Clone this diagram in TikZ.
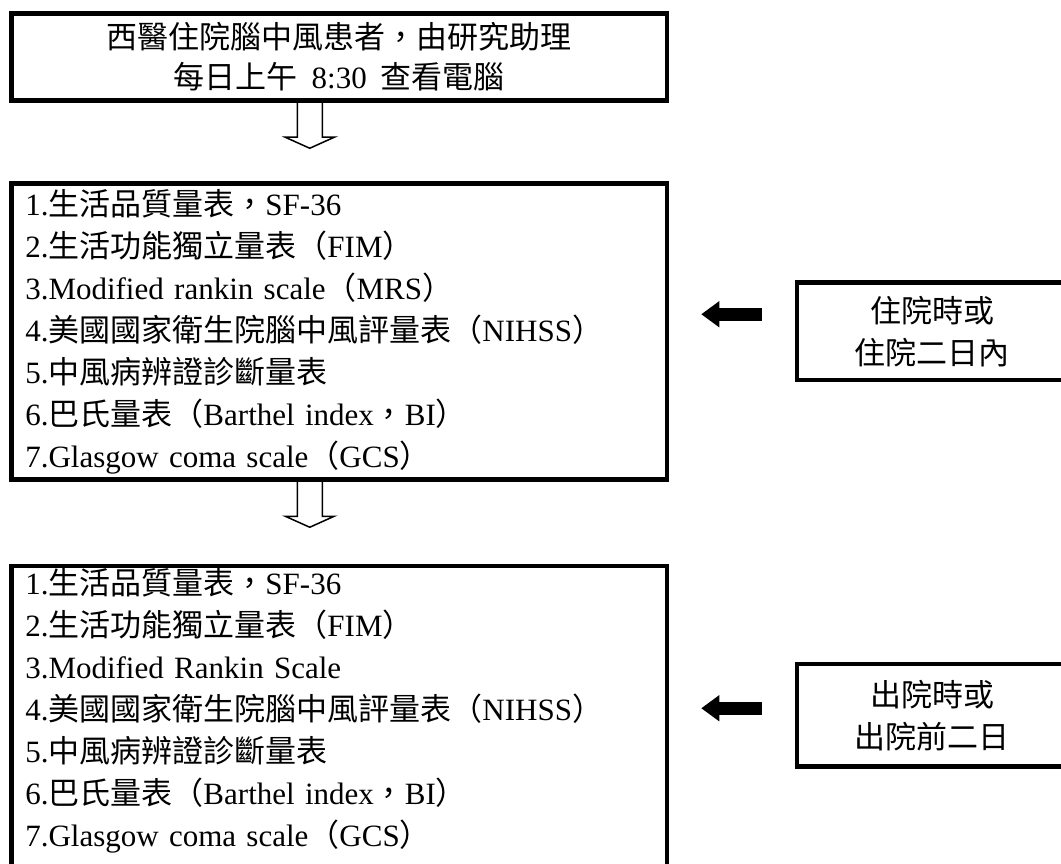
\documentclass[tikz,border=0pt]{standalone}
\usepackage{fontspec}
\setmainfont{Liberation Serif}
\newfontfamily\cjk{Noto Sans CJK TC}
\usetikzlibrary{arrows.meta}
\begin{document}
\begin{tikzpicture}[x=1pt,y=-1pt,
  box/.style={draw,line width=4.5pt,inner sep=0pt},
  listbox/.style={box,text width=628pt,align=left,minimum width=655.5pt,font=\fontsize{31}{42}\selectfont},
  notebox/.style={box,align=center,minimum width=270pt,font=\fontsize{31}{42}\selectfont},
  hollow/.style={line width=1.5pt},
  fat/.style={line width=13pt,-{Triangle[length=18pt,width=25pt]}}]
\clip (0,0) rectangle (1061,864);
\node[box,minimum width=655.5pt,minimum height=87pt,align=center,font=\fontsize{31}{40}\selectfont] (start) at (339.25,57)
  {{\cjk 西醫住院腦中風患者，由研究助理}\\{\cjk 每日上午}\hspace{0.45em}8:30\hspace{0.45em}{\cjk 查看電腦}};
\node[listbox,minimum height=296pt] (admitlist) at (339.25,331.5)
  {1.{\cjk 生活品質量表，}SF-36\\
   2.{\cjk 生活功能獨立量表（}FIM{\cjk ）}\\
   3.Modified rankin scale{\cjk （}MRS{\cjk ）}\\
   4.{\cjk 美國國家衛生院腦中風評量表（}NIHSS{\cjk ）}\\
   5.{\cjk 中風病辨證診斷量表}\\
   6.{\cjk 巴氏量表（}Barthel index{\cjk ，}BI{\cjk ）}\\
   7.Glasgow coma scale{\cjk （}GCS{\cjk ）}};
\node[listbox,minimum height=338pt,anchor=north] (dischlist) at (339.25,563.5)
  {1.{\cjk 生活品質量表，}SF-36\\
   2.{\cjk 生活功能獨立量表（}FIM{\cjk ）}\\
   3.Modified Rankin Scale\\
   4.{\cjk 美國國家衛生院腦中風評量表（}NIHSS{\cjk ）}\\
   5.{\cjk 中風病辨證診斷量表}\\
   6.{\cjk 巴氏量表（}Barthel index{\cjk ，}BI{\cjk ）}\\
   7.Glasgow coma scale{\cjk （}GCS{\cjk ）}\\
   \strut};
\node[notebox,minimum height=97.5pt] (admitnote) at (932,331.25) {{\cjk 住院時或}\\{\cjk 住院二日內}};
\node[notebox,minimum height=102.5pt] (dischnote) at (932,715.25) {{\cjk 出院時或}\\{\cjk 出院前二日}};
\draw[hollow] ([xshift=-42pt]start.south) -- ++(0,34.5) -- ++(-12,0) -- ++(24.5,11) -- ++(24.5,-11) -- ++(-12,0) -- ++(0,-34.5);
\draw[hollow] ([xshift=-42pt]admitlist.south) -- ++(0,34.5) -- ++(-12,0) -- ++(24.5,11) -- ++(24.5,-11) -- ++(-12,0) -- ++(0,-34.5);
\coordinate (in1) at ([yshift=17pt]admitnote.west);
\coordinate (in2) at ([yshift=7pt]dischnote.west);
\draw[fat,shorten <=33pt,shorten >=32pt] (in1) -- (in1 -| admitlist.east);
\draw[fat,shorten <=33pt,shorten >=32pt] (in2) -- (in2 -| dischlist.east);
\end{tikzpicture}
\end{document}
